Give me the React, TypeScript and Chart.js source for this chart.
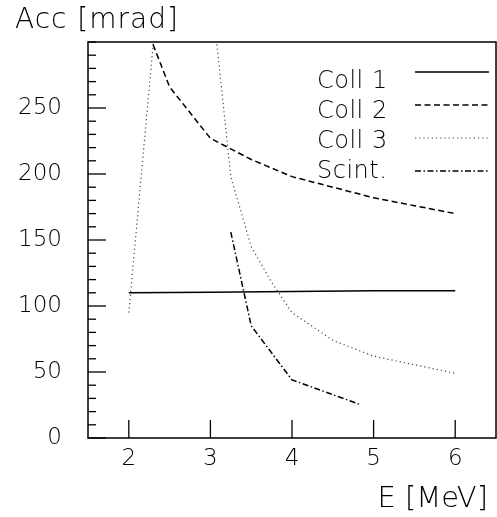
import React, { useEffect, useRef } from "react";
import { Chart, registerables } from "chart.js";

Chart.register(...registerables);

// ---- data ----
const coll1X = [2, 3, 4, 5, 6];
const coll1Y = [110, 110.5, 111, 111.5, 111.5];
const coll2X = [2, 2.5, 3, 3.5, 4, 4.5, 5, 5.5, 6];
const coll2Y = [345, 266, 227, 211, 198, 190, 182, 176, 170];
const coll3X = [2, 2.5, 3, 3.25, 3.5, 3.75, 4, 4.5, 5, 6];
const coll3Y = [95, 435, 345, 198, 145, 118, 95, 74, 62, 49];
const scintX = [3.25, 3.5, 4, 4.85];
const scintY = [156, 85, 44, 25];
const seriesLabels = ["Coll 1", "Coll 2", "Coll 3", "Scint."];
const xTicks = [2, 3, 4, 5, 6];
const yTicks = [0, 50, 100, 150, 200, 250];
const yMinorStep = 10;
const yTitle = "Acc [mrad]";
const xTitle = "E [MeV]";

const FONT = "'DejaVu Sans ExtraLight', 'DejaVu Sans', sans-serif";
const W = "200";

const pts = (xs: number[], ys: number[]) => xs.map((x, i) => ({ x, y: ys[i] }));

const framePlugin = {
  id: "framePlugin",
  afterDraw(chart: any) {
    const { ctx, chartArea: a, scales } = chart;
    const xs = scales.x;
    const ys = scales.y;
    ctx.save();
    ctx.strokeStyle = "#000";
    ctx.lineWidth = 1.5;
    ctx.strokeRect(a.left, a.top, a.right - a.left, a.bottom - a.top);
    ctx.lineWidth = 1.3;
    for (let v = ys.min; v <= ys.max; v += yMinorStep) {
      const p = ys.getPixelForValue(v);
      const len = yTicks.includes(v) ? 18 : 8;
      ctx.beginPath();
      ctx.moveTo(a.left, p);
      ctx.lineTo(a.left + len, p);
      ctx.stroke();
    }
    for (const v of xTicks) {
      const p = xs.getPixelForValue(v);
      ctx.beginPath();
      ctx.moveTo(p, a.bottom);
      ctx.lineTo(p, a.bottom - 18);
      ctx.stroke();
    }
    ctx.fillStyle = "#000";
    ctx.textBaseline = "alphabetic";
    ctx.font = `${W} 28px ${FONT}`;
    ctx.textAlign = "left";
    (ctx as any).letterSpacing = "1px";
    ctx.fillText(yTitle, 15, 28);
    ctx.font = `${W} 29px ${FONT}`;
    (ctx as any).letterSpacing = "0px";
    ctx.textAlign = "right";
    ctx.fillText(xTitle, 488, 507);

    // legend
    ctx.font = `${W} 24px ${FONT}`;
    (ctx as any).letterSpacing = "0.5px";
    ctx.textAlign = "left";
    chart.data.datasets.forEach((ds: any, i: number) => {
      ctx.fillStyle = "#000";
      ctx.fillText(ds.label, 317, 88 + 30 * i);
      ctx.save();
      ctx.strokeStyle = ds.borderColor;
      ctx.lineWidth = ds.borderWidth;
      ctx.setLineDash(ds.borderDash || []);
      const ly = 72 + 33 * i;
      ctx.beginPath();
      ctx.moveTo(415, ly);
      ctx.lineTo(489, ly);
      ctx.stroke();
      ctx.restore();
    });
    (ctx as any).letterSpacing = "0px";
    ctx.restore();
  },
};

export default function App() {
  const ref = useRef<HTMLCanvasElement>(null);
  useEffect(() => {
    if (!ref.current) return;
    const mk = (label: string, data: any[], dash: number[], width: number, color: string) => ({
      label,
      data,
      borderColor: color,
      borderWidth: width,
      borderDash: dash,
      pointRadius: 0,
      fill: false,
      tension: 0,
    });
    const chart = new Chart(ref.current, {
      type: "line",
      data: {
        datasets: [
          mk(seriesLabels[0], pts(coll1X, coll1Y), [], 1.5, "#000"),
          mk(seriesLabels[1], pts(coll2X, coll2Y), [6, 3.5], 1.5, "#000"),
          mk(seriesLabels[2], pts(coll3X, coll3Y), [1.2, 3], 1.2, "#444"),
          mk(seriesLabels[3], pts(scintX, scintY), [6, 2.5, 1.5, 2.5], 1.5, "#000"),
        ],
      },
      options: {
        animation: false,
        responsive: false,
        devicePixelRatio: 1,
        layout: { padding: { top: 42, right: 1, left: 0, bottom: 0 } },
        plugins: { legend: { display: false }, tooltip: { enabled: false }, title: { display: false } },
        scales: {
          x: {
            type: "linear",
            min: 1.5,
            max: 6.5,
            grid: { display: false, drawTicks: false },
            border: { display: false },
            afterBuildTicks: (s: any) => {
              s.ticks = xTicks.map((v) => ({ value: v }));
            },
            afterFit: (s: any) => {
              s.height = 79;
            },
            ticks: { color: "#000", padding: 7, maxRotation: 0, font: { family: FONT, size: 23, weight: W } },
          },
          y: {
            type: "linear",
            min: 0,
            max: 300,
            grid: { display: false, drawTicks: false },
            border: { display: false },
            afterBuildTicks: (s: any) => {
              s.ticks = yTicks.map((v) => ({ value: v }));
            },
            afterFit: (s: any) => {
              s.width = 88;
            },
            ticks: { color: "#000", padding: 26, font: { family: FONT, size: 23, weight: W } },
          },
        },
      },
      plugins: [framePlugin],
    });
    return () => chart.destroy();
  }, []);
  return (
    <div style={{ position: "absolute", left: 0, top: 0, width: 497, height: 517, background: "#fff" }}>
      <canvas ref={ref} width={497} height={517} />
    </div>
  );
}
